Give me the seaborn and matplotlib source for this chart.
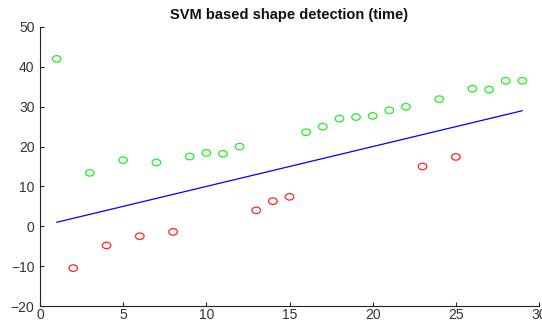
import matplotlib
matplotlib.use("Agg")
import matplotlib.pyplot as plt
from matplotlib.path import Path
from matplotlib.transforms import Affine2D
import seaborn as sns
import pandas as pd

green_x = [1, 3, 5, 7, 9, 10, 11, 12, 16, 17, 18, 19, 20, 21, 22, 24, 26, 27, 28, 29]
green_y = [42.0, 13.4, 16.6, 16.0, 17.5, 18.4, 18.2, 20.0, 23.6, 25.0, 27.0, 27.4, 27.7, 29.1, 30.0, 31.9, 34.5, 34.3, 36.5, 36.5]
red_x = [2, 4, 6, 8, 13, 14, 15, 23, 25]
red_y = [-10.5, -4.8, -2.5, -1.4, 4.0, 6.3, 7.4, 15.0, 17.4]
line_x = [1, 29]
line_y = [1, 29]

sns.set_style("white")
plt.rcParams['font.family'] = ['Liberation Sans', 'DejaVu Sans']

fig = plt.figure(figsize=(5.42, 3.22), dpi=100)
ax = fig.add_axes([40/542, 16/322, 499/542, 279/322])

g = pd.DataFrame({"x": green_x, "y": green_y})
r = pd.DataFrame({"x": red_x, "y": red_y})
l = pd.DataFrame({"x": line_x, "y": line_y})

ell = Path.unit_circle().transformed(Affine2D().scale(1.25, 0.95))

sns.lineplot(data=l, x="x", y="y", ax=ax, color="#0000ff", linewidth=0.9)
sns.scatterplot(data=g, x="x", y="y", ax=ax, marker=ell, s=38,
                facecolors="none", edgecolor="#22ee22", linewidth=0.9)
sns.scatterplot(data=r, x="x", y="y", ax=ax, marker=ell, s=38,
                facecolors="none", edgecolor="#ff2222", linewidth=0.9)

ax.set_xlim(0, 30)
ax.set_ylim(-20, 50)
ax.set_xticks([0, 5, 10, 15, 20, 25, 30])
ax.set_yticks([-20, -10, 0, 10, 20, 30, 40, 50])
ax.set_xlabel("")
ax.set_ylabel("")
ax.set_title("SVM based shape detection (time)", fontsize=10.5, fontweight="bold", pad=6, color="#111111")
ax.tick_params(direction="in", length=3, labelsize=10, labelcolor="#333333", colors="#222222", width=0.8,
               left=True, bottom=True)
ax.tick_params(axis="y", pad=4)
ax.tick_params(axis="x", pad=1.5)
for s in ["top", "right"]:
    ax.spines[s].set_visible(False)
for s in ["left", "bottom"]:
    ax.spines[s].set_color("#222222")
    ax.spines[s].set_linewidth(0.8)

fig.savefig("out.png", dpi=100)
